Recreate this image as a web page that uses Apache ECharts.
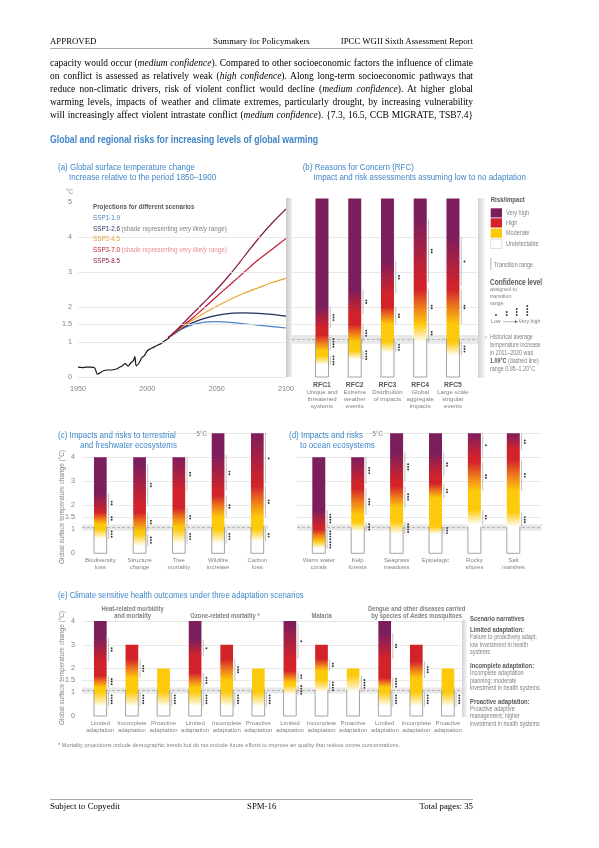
<!DOCTYPE html>
<html>
<head>
<meta charset="utf-8">
<script src="https://cdn.jsdelivr.net/npm/echarts@6.0.0/dist/echarts.min.js"></script>
<style>
html,body{margin:0;padding:0;background:#fff;}
body{width:599px;height:848px;position:relative;overflow:hidden;}
#chart{position:absolute;left:0;top:0;width:599px;height:848px;}
.pt{position:absolute;font-family:'Liberation Serif','Times New Roman',serif;color:#000;}
.hd{font-size:8.8px;top:35px;line-height:12px;white-space:nowrap;}
.para{left:50px;width:423px;font-size:9.5px;line-height:13px;text-align:justify;text-align-last:justify;}
.rule{position:absolute;left:50px;width:423px;height:0;border-top:1px solid #a8a8a8;}
.ft{font-size:8.8px;top:800px;line-height:12px;white-space:nowrap;}
</style>
</head>
<body>
<div id="chart"></div>
<div class="pt hd" style="left:50px">APPROVED</div>
<div class="pt hd" style="left:213px">Summary for Policymakers</div>
<div class="pt hd" style="right:126px">IPCC WGII Sixth Assessment Report</div>
<div class="rule" style="top:48px"></div>
<div class="pt para" style="top:57px">capacity would occur (<i>medium confidence</i>). Compared to other socioeconomic factors the influence of climate</div>
<div class="pt para" style="top:70px">on conflict is assessed as relatively weak (<i>high confidence</i>). Along long-term socioeconomic pathways that</div>
<div class="pt para" style="top:83px">reduce non-climatic drivers, risk of violent conflict would decline (<i>medium confidence</i>). At higher global</div>
<div class="pt para" style="top:96px">warming levels, impacts of weather and climate extremes, particularly drought, by increasing vulnerability</div>
<div class="pt para" style="top:109px">will increasingly affect violent intrastate conflict (<i>medium confidence</i>). {7.3, 16.5, CCB MIGRATE, TSB7.4}</div>
<div class="rule" style="top:799px"></div>
<div class="pt ft" style="left:50px">Subject to Copyedit</div>
<div class="pt ft" style="left:247px">SPM-16</div>
<div class="pt ft" style="right:126px">Total pages: 35</div>
<script>
// ---------------- DATA ----------------
// (a) Global surface temperature change
const histYears = [1950,1953,1956,1959,1962,1964,1966,1968,1971,1974,1977,1980,1982,1984,1986,1988,1990,1991,1992,1994,1996,1998,2000,2002,2004,2006,2008,2010,2012,2014,2016];
const histMean  = [0.28,0.27,0.28,0.28,0.26,0.08,0.12,0.17,0.20,0.20,0.22,0.28,0.32,0.38,0.31,0.40,0.47,0.58,0.32,0.40,0.55,0.62,0.75,0.80,0.84,0.88,0.92,0.96,1.02,1.07,1.12];
const histLow   = [0.02,0.02,0.04,0.05,0.04,0.00,0.00,0.00,0.02,0.00,0.02,0.06,0.12,0.18,0.12,0.20,0.26,0.36,0.12,0.20,0.35,0.42,0.55,0.60,0.66,0.70,0.74,0.78,0.84,0.90,0.95];
const histHigh  = [0.52,0.50,0.50,0.52,0.50,0.35,0.35,0.40,0.42,0.42,0.44,0.48,0.50,0.58,0.52,0.60,0.68,0.82,0.55,0.60,0.75,0.82,0.95,0.98,1.02,1.06,1.10,1.15,1.20,1.30,1.30];
const projYears = [2015,2020,2025,2030,2040,2050,2060,2070,2080,2090,2100];
const ssp119 = [1.12,1.25,1.37,1.46,1.56,1.58,1.56,1.52,1.48,1.44,1.40];
const ssp126 = [1.12,1.26,1.39,1.50,1.66,1.76,1.82,1.83,1.82,1.79,1.74];
const ssp245 = [1.12,1.27,1.42,1.56,1.80,2.02,2.22,2.40,2.55,2.70,2.82];
const ssp370 = [1.12,1.28,1.45,1.60,1.94,2.30,2.65,3.00,3.35,3.65,3.96];
const ssp585 = [1.12,1.30,1.50,1.70,2.10,2.50,2.95,3.45,3.95,4.40,4.80];
const ssp126Low  = [1.05,1.15,1.25,1.32,1.40,1.42,1.40,1.38,1.36,1.34,1.32];
const ssp126High = [1.18,1.50,1.80,2.05,2.30,2.36,2.36,2.36,2.36,2.36,2.36];
const ssp370Low  = [1.05,1.15,1.30,1.40,1.55,1.70,1.90,2.15,2.40,2.65,2.90];
const ssp370High = [1.15,1.40,1.70,2.00,2.35,2.70,3.15,3.70,4.25,4.70,5.00];
const aYTicks = [0,1,1.5,2,3,4,5];
const ceTicks = [0,1,1.5,2,3,4];
const gridA = [1,1.5,2,3,4];
const gridB = [1.5,2,3,4];
const gridCD = [1.5,2,3,4,5];
const gridE = [1.5,2,3,4];
const histRange = [0.95,1.2];
const histLevel = 1.09;
const outlineTop = 1.1;

// (b) Reasons for concern. transitions: [start, end, confidence dots]
const bNames = ['RFC1','RFC2','RFC3','RFC4','RFC5'];
const bDesc  = ['Unique and\nthreatened\nsystems','Extreme\nweather\nevents','Distribution\nof impacts','Global\naggregate\nimpacts','Large scale\nsingular\nevents'];
const bTop = [5.1,5.1,5.1,5.1,5.1];
const bUM = [[0.35,0.6,4],[0.5,0.75,4],[0.7,1.0,3],[1.0,1.5,2],[0.6,1.0,3]];
const bMH = [[0.75,1.2,4],[1.0,1.5,3],[1.5,2.0,2],[1.5,2.5,2],[1.5,2.5,2]];
const bHV = [[1.4,2.0,3],[1.8,2.5,2],[2.4,3.3,2],[2.7,4.5,2],[2.6,4.0,1]];

// (c) terrestrial & freshwater ecosystems
const cCats = ['Biodiversity\nloss','Structure\nchange','Tree\nmortality','Wildfire\nincrease','Carbon\nloss'];
const cTop = [4,4,4,5,5];
const cUM = [[0.6,1.0,3],[0.3,0.8,3],[0.4,1.0,3],[0.4,1.0,3],[0.5,1.0,2]];
const cMH = [[1.2,1.7,2],[0.9,1.7,2],[1.1,1.9,2],[1.5,2.4,2],[1.5,2.8,2]];
const cHV = [[1.7,2.5,2],[2.0,3.7,2],[2.6,4.0,2],[2.6,4.1,2],[2.9,5.0,1]];

// (d) ocean ecosystems
const dCats = ['Warm water\ncorals','Kelp\nforests','Seagrass\nmeadows','Epipelagic','Rocky\nshores','Salt\nmarshes'];
const dTop = [4,4,5,5,5,5];
const dUM = [[0.2,0.5,3],[0.9,1.3,3],[0.8,1.3,4],[0.8,1.1,3],[1.2,1.8,2],[1.1,1.7,3]];
const dMH = [[0.5,1.0,4],[1.6,2.7,3],[1.9,2.8,3],[2.3,2.9,2],[2.6,3.8,2],[2.6,3.9,2]];
const dHV = [[1.1,1.8,4],[2.9,4.0,3],[3.0,4.2,3],[3.2,4.2,2],[4.0,5.0,1],[4.3,5.0,2]];

// (e) health outcomes
const eGroups = ['Heat-related morbidity\nand mortality','Ozone-related mortality *','Malaria','Dengue and other diseases carried\nby species of Aedes mosquitoes'];
const eScen = ['Limited\nadaptation','Incomplete\nadaptation','Proactive\nadaptation'];
const eTop = [4,3,2, 4,3,2, 4,3,2, 4,3,2];
const eUM = [[0.4,1.0,4],[0.4,1.0,4],[0.4,1.0,4],[0.4,1.0,4],[0.4,1.0,4],[0.4,1.0,4],[0.9,1.3,4],[1.0,1.5,4],[1.0,1.7,4],[0.4,1.0,4],[0.4,1.0,4],[0.4,1.0,4]];
const eMH = [[1.2,1.7,3],[1.6,2.4,3],null,[1.2,1.8,3],[1.5,2.4,3],null,[1.4,1.9,2],[1.9,2.4,2],null,[1.2,1.6,4],[1.6,2.3,3],null];
const eHV = [[2.3,3.3,2],null,null,[2.5,3.2,1],null,null,[2.4,3.9,1],null,null,[2.4,3.5,2],null,null];

// ---------------- STYLE ----------------
const FN = "'Liberation Sans',Arial,sans-serif";
const BLUE = '#3f86c8';
const DG = '#58595b', LG = '#808285';
const C = {U:'#ffffff', M:'#fdca0b', O:'#ee7a1c', H:'#d2232a', V:'#7d1e5c'};
const SC = {s119:'#4a85c5', s126:'#1f2f5c', s245:'#eba12d', s370:'#c21a30', s585:'#861b45'};

const chart = echarts.init(document.getElementById('chart'), null, {renderer:'canvas'});

function pairs(xs, ys){ return xs.map((x,i)=>[x, ys[i]]); }
function diff(hi, lo){ return hi.map((v,i)=>v-lo[i]); }

function stopsFor(top, um, mh, hv){
  const p=[[0,C.U]];
  if(um) p.push([um[0],C.U],[um[1],C.M]);
  if(mh) p.push([mh[0],C.M],[(mh[0]+mh[1])/2,C.O],[mh[1],C.H]);
  if(hv) p.push([hv[0],C.H],[hv[1],C.V]);
  p.push([top,p[p.length-1][1]]);
  return p.filter(q=>q[0]<=top).map(q=>({offset:Math.min(1,q[0]/top),color:q[1]}));
}

function emberSeries(xi, yi, top, um, mh, hv, bw){
  return {
    type:'custom', xAxisIndex:xi, yAxisIndex:yi, z:5, silent:true,
    data: top.map((t,i)=>[i,t]),
    renderItem(params, api){
      const i=params.dataIndex;
      const t=api.value(1);
      const b=api.coord([i,0]), tp=api.coord([i,t]);
      const x0=b[0]-bw/2;
      const ch=[];
      ch.push({type:'rect', shape:{x:x0,y:tp[1],width:bw,height:b[1]-tp[1]},
        style:{fill:new echarts.graphic.LinearGradient(0,1,0,0,stopsFor(t,um[i],mh[i],hv[i]))}});
      const h=api.coord([i,outlineTop])[1];
      ch.push({type:'polyline', shape:{points:[[x0,h],[x0,b[1]],[x0+bw,b[1]],[x0+bw,h]]},
        style:{stroke:'#9a9a9a', lineWidth:0.9, fill:'none'}});
      [um[i],mh[i],hv[i]].forEach(tr=>{
        if(!tr) return;
        const y1=api.coord([i,tr[0]])[1], y2=api.coord([i,Math.min(tr[1],t)])[1];
        const lx=x0+bw+1.8;
        ch.push({type:'line', shape:{x1:lx,y1:y1,x2:lx,y2:y2}, style:{stroke:'#b0b2b5', lineWidth:0.8}});
        const cy=(y1+y2)/2, n=tr[2], sp=2.6;
        for(let k=0;k<n;k++) ch.push({type:'circle', shape:{cx:lx+3.2, cy:cy+(k-(n-1)/2)*sp, r:0.95}, style:{fill:'#333'}});
      });
      return {type:'group', children:ch};
    }
  };
}

function bgSeries(xi, yi, lines, band){
  const ml = lines.map(v=>({yAxis:v}));
  if(band) ml.push({yAxis:histLevel, lineStyle:{color:'#a9a9a9', type:[3,2], width:0.8}});
  const s = {type:'line', xAxisIndex:xi, yAxisIndex:yi, data:[], silent:true, z:1,
    markLine:{silent:true, symbol:'none', animation:false, label:{show:false}, lineStyle:{color:'#e3e3e3', width:0.8, type:'solid'}, data:ml}};
  if(band) s.markArea = {silent:true, animation:false, itemStyle:{color:'#e8e8e8'}, data:[[{yAxis:histRange[0]},{yAxis:histRange[1]}]]};
  return s;
}

function tickFmt(list){ return v => list.indexOf(+(+v).toFixed(2))>=0 ? String(v) : ''; }

const grids = [
  {left:78, top:202, width:208, height:175},
  {left:287, top:202, width:191, height:175},
  {left:305.6, top:202, width:163.75, height:175},
  {left:82, top:433.3, width:186, height:120},
  {left:80.7, top:433.3, width:196.25, height:120},
  {left:297, top:433.3, width:245, height:120},
  {left:299.35, top:433.3, width:233.4, height:120},
  {left:82, top:621, width:380, height:95},
  {left:84.5, top:621, width:379.2, height:95}
].map(g=>Object.assign({outerBoundsMode:'none', containLabel:false}, g));

const hidX = gi => ({type:'value', gridIndex:gi, min:0, max:1, show:false});
const hidY = (gi,max) => ({type:'value', gridIndex:gi, min:0, max:max, show:false});
const catLabel = {interval:0, fontFamily:FN, fontSize:6.0, color:LG, lineHeight:6.8, margin:4};

const eKeys = [];
eGroups.forEach((g,gi)=>eScen.forEach((s,si)=>eKeys.push(gi+'|'+si)));

const xAxes = [
  {type:'value', gridIndex:0, min:1950, max:2100, interval:50,
   axisLine:{show:true, lineStyle:{color:'#e4e4e4'}}, axisTick:{show:false}, splitLine:{show:false},
   axisLabel:{fontFamily:FN, fontSize:7.2, color:LG, margin:9, formatter:v=>String(v)}},
  hidX(1),
  {type:'category', gridIndex:2, data:bNames, axisLine:{show:false}, axisTick:{show:false},
   axisLabel:{interval:0, margin:4, formatter:(v,i)=>'{b|'+v+'}\n'+bDesc[i].split('\n').map(s=>'{n|'+s+'}').join('\n'),
     rich:{b:{fontFamily:FN, fontSize:6.8, fontWeight:'bold', color:DG, lineHeight:8},
           n:{fontFamily:FN, fontSize:6.1, color:LG, lineHeight:7}}}},
  hidX(3),
  {type:'category', gridIndex:4, data:cCats, axisLine:{show:false}, axisTick:{show:false}, axisLabel:catLabel},
  hidX(5),
  {type:'category', gridIndex:6, data:dCats, axisLine:{show:false}, axisTick:{show:false}, axisLabel:catLabel},
  hidX(7),
  {type:'category', gridIndex:8, data:eKeys, axisLine:{show:false}, axisTick:{show:false},
   axisLabel:Object.assign({}, catLabel, {formatter:v=>eScen[+v.split('|')[1]]})}
];

const yAxes = [
  {type:'value', gridIndex:0, min:0, max:5, interval:0.5, axisLine:{show:false}, axisTick:{show:false}, splitLine:{show:false},
   axisLabel:{fontFamily:FN, fontSize:7.2, color:LG, margin:6, formatter:tickFmt(aYTicks)}},
  hidY(1,5), hidY(2,5),
  {type:'value', gridIndex:3, min:0, max:5, interval:0.5, axisLine:{show:false}, axisTick:{show:false}, splitLine:{show:false},
   axisLabel:{fontFamily:FN, fontSize:7.2, color:LG, margin:7, formatter:tickFmt(ceTicks)}},
  hidY(4,5), hidY(5,5), hidY(6,5),
  {type:'value', gridIndex:7, min:0, max:4, interval:0.5, axisLine:{show:false}, axisTick:{show:false}, splitLine:{show:false},
   axisLabel:{fontFamily:FN, fontSize:7.2, color:LG, margin:7, formatter:tickFmt(ceTicks)}},
  hidY(8,4)
];

function lineS(data, color, w, z){
  return {type:'line', xAxisIndex:0, yAxisIndex:0, data, symbol:'none', smooth:0.3, z:z||4, silent:true,
    lineStyle:{color, width:w}};
}
function bandS(lo, hi, xs, stack, color, z){
  return [
    {type:'line', xAxisIndex:0, yAxisIndex:0, data:pairs(xs, lo), stack, symbol:'none', smooth:0.3, silent:true, z:z, lineStyle:{opacity:0}},
    {type:'line', xAxisIndex:0, yAxisIndex:0, data:pairs(xs, diff(hi, lo)), stack, symbol:'none', smooth:0.3, silent:true, z:z, lineStyle:{opacity:0}, areaStyle:{color, opacity:1}}
  ];
}

const series = [
  bgSeries(0,0,gridA,false),
  ...bandS(histLow, histHigh, histYears, 'hist', 'rgba(200,200,200,0.85)', 2),
  ...bandS(ssp126Low, ssp126High, projYears, 'b126', 'rgba(196,204,226,0.85)', 2),
  ...bandS(ssp370Low, ssp370High, projYears, 'b370', 'rgba(245,176,181,0.72)', 3),
  lineS(pairs(histYears, histMean), '#1a1a1a', 1.2),
  lineS(pairs(projYears, ssp119), SC.s119, 1.2),
  lineS(pairs(projYears, ssp126), SC.s126, 1.2),
  lineS(pairs(projYears, ssp245), SC.s245, 1.2),
  lineS(pairs(projYears, ssp370), SC.s370, 1.2),
  lineS(pairs(projYears, ssp585), SC.s585, 1.2),
  bgSeries(1,1,gridB,true),
  emberSeries(2,2,bTop,bUM,bMH,bHV,13),
  bgSeries(3,3,gridCD,true),
  emberSeries(4,4,cTop,cUM,cMH,cHV,12.7),
  bgSeries(5,5,gridCD,true),
  emberSeries(6,6,dTop,dUM,dMH,dHV,13),
  bgSeries(7,7,gridE,true),
  emberSeries(8,8,eTop,eUM,eMH,eHV,12.7)
];

// ---------------- TEXT / DECORATION ----------------
const G = [];
function T(x,y,text,o,sx){ G.push({type:'text', x, y, scaleX:(sx==null?0.85:sx), z:50, silent:true, style:Object.assign({text, fontFamily:FN, fontSize:7, fill:DG, verticalAlign:'middle', align:'left'}, o||{})}); }
function grad(x,y,w,h,c1,c2){ G.push({type:'rect', z:40, silent:true, shape:{x,y,width:w,height:h}, style:{fill:new echarts.graphic.LinearGradient(0,0,1,0,[{offset:0,color:c1},{offset:1,color:c2}])}}); }

T(50,139.5,'Global and regional risks for increasing levels of global warming',{fontSize:11.2, fontWeight:'bold', fill:BLUE},0.78);
const PT = {fontSize:9.4, fill:BLUE};
T(58,167,'(a) Global surface temperature change',PT);
T(69,177.5,'Increase relative to the period 1850–1900',PT);
T(302.7,167,'(b) Reasons for Concern (RFC)',PT);
T(313.3,177.5,'Impact and risk assessments assuming low to no adaptation',PT);
T(58,435.7,'(c) Impacts and risks to terrestrial',PT);
T(80,445.5,'and freshwater ecosystems',PT);
T(289,435.7,'(d) Impacts and risks',PT);
T(300,445.5,'to ocean ecosystems',PT);
T(58,595.7,'(e) Climate sensitive health outcomes under three adaptation scenarios',PT,0.83);

// panel a
T(66,192,'°C',{fontSize:7.4, fill:LG});
T(93,207,'Projections for different scenarios',{fontSize:7.6, fontWeight:'bold', fill:DG},0.82);
const LR = {fontSize:7.4};
T(93,218,'SSP1-1.9',Object.assign({fill:SC.s119},LR));
T(93,228.7,'{a|SSP1-2.6} {g|(shade representing }{gi|very likely}{g| range)}',Object.assign({rich:{a:{fill:SC.s126,fontFamily:FN,fontSize:7.4},g:{fill:LG,fontFamily:FN,fontSize:7.4},gi:{fill:LG,fontFamily:FN,fontSize:7.4,fontStyle:'italic'}}},LR));
T(93,239.3,'SSP2-4.5',Object.assign({fill:SC.s245},LR));
T(93,250,'{a|SSP3-7.0} {g|(shade representing }{gi|very likely}{g| range)}',Object.assign({rich:{a:{fill:SC.s370,fontFamily:FN,fontSize:7.4},g:{fill:'#ec8c93',fontFamily:FN,fontSize:7.4},gi:{fill:'#ec8c93',fontFamily:FN,fontSize:7.4,fontStyle:'italic'}}},LR));
T(93,260.5,'SSP5-8.5',Object.assign({fill:SC.s585},LR));

// gray separators
grad(286,198,6,179,'#c9c9c9','#f0f0f0');
grad(478,198,7,180,'#d3d3d3','#f6f6f6');
grad(462,620,5,97,'#d3d3d3','#f6f6f6');

// legend b
T(490.7,200,'Risk/impact',{fontSize:8, fontWeight:'bold'},0.76);
[[C.V,'Very high',208.3],[C.H,'High',218.3],[C.M,'Moderate',228.6],[C.U,'Undetectable',239.2]].forEach(r=>{
  G.push({type:'rect', z:40, silent:true, shape:{x:490.7,y:r[2],width:11.3,height:9.2}, style:{fill:r[0], stroke:r[0]===C.U?'#c8c8c8':null, lineWidth:0.6}});
  T(506,r[2]+4.6,r[1],{fontSize:6.5, fill:LG});
});
G.push({type:'line', z:40, silent:true, shape:{x1:490.9,y1:258,x2:490.9,y2:270}, style:{stroke:'#a0a0a0', lineWidth:0.8}});
T(494,265,'Transition range',{fontSize:6.4, fill:LG});
T(490,282.7,'Confidence level',{fontSize:8.2, fontWeight:'bold'},0.8);
T(490,289.6,'assigned to',{fontSize:6.2, fill:LG});
T(490,296.3,'transition',{fontSize:6.2, fill:LG});
T(490,303,'range',{fontSize:6.2, fill:LG});
[[496,1],[506.7,2],[516.7,3],[527.3,4]].forEach(d=>{
  for(let k=0;k<d[1];k++) G.push({type:'circle', z:40, silent:true, shape:{cx:d[0], cy:315-k*3, r:0.95}, style:{fill:'#333'}});
});
T(491,321.7,'Low',{fontSize:6.2, fill:LG});
G.push({type:'line', z:40, silent:true, shape:{x1:503,y1:321.7,x2:516,y2:321.7}, style:{stroke:'#888', lineWidth:0.6}});
G.push({type:'polygon', z:40, silent:true, shape:{points:[[518,321.7],[515,320.2],[515,323.2]]}, style:{fill:'#666'}});
T(518.5,321.7,'Very high',{fontSize:6.2, fill:LG});
T(484.5,337,'>',{fontSize:6.2, fill:'#aaa'});
T(490,337,'Historical average',{fontSize:6.3, fill:LG});
T(490,345,'temperature increase',{fontSize:6.3, fill:LG});
T(490,353,'in 2011–2020 was',{fontSize:6.3, fill:LG});
T(490,361,'{b|1.09°C} (dashed line)',{fontSize:6.3, fill:LG, rich:{b:{fontFamily:FN,fontSize:6.3,fontWeight:'bold',fill:DG}}});
T(490,369,'range 0.95–1.20°C',{fontSize:6.3, fill:LG});

// panel c/d/e extras
T(207,434,'5°C',{fontSize:7.3, fill:LG, align:'right'});
T(383,434,'5°C',{fontSize:7.3, fill:LG, align:'right'});
G.push({type:'text', x:62, y:507, rotation:Math.PI/2, scaleX:0.88, z:50, silent:true, style:{text:'Global surface temperature change (°C)', fontFamily:FN, fontSize:7.3, fill:LG, align:'center', verticalAlign:'middle'}});
G.push({type:'text', x:62, y:668, rotation:Math.PI/2, scaleX:0.88, z:50, silent:true, style:{text:'Global surface temperature change (°C)', fontFamily:FN, fontSize:7.3, fill:LG, align:'center', verticalAlign:'middle'}});

const GH = {fontSize:6.9, fontWeight:'bold', fill:LG, align:'center'};
T(132.7,609.3,'Heat-related morbidity',GH);
T(132.7,616.3,'and mortality',GH);
T(225,616.3,'Ozone-related mortality *',GH);
T(321.7,616.3,'Malaria',GH);
T(416.7,609.3,'Dengue and other diseases carried',GH);
T(416.7,616.3,'by species of {i|Aedes} mosquitoes',Object.assign({rich:{i:{fontFamily:FN,fontSize:6.9,fontWeight:'bold',fontStyle:'italic',fill:LG}}},GH));

const SN = {fontSize:6.4, fill:LG};
const SB = {fontSize:6.9, fontWeight:'bold', fill:DG};
T(470,619,'Scenario narratives',SB);
T(470,630,'Limited adaptation:',SB);
T(470,637.7,'Failure to proactively adapt;',SN);
T(470,645.1,'low investment in health',SN);
T(470,652.7,'systems',SN);
T(470,665.7,'Incomplete adaptation:',SB);
T(470,673.3,'Incomplete adaptation',SN);
T(470,681,'planning; moderate',SN);
T(470,688.4,'investment in health systems',SN);
T(470,701.7,'Proactive adaptation:',SB);
T(470,709.2,'Proactive adaptive',SN);
T(470,716.7,'management; higher',SN);
T(470,724.1,'investment in health systems',SN);

T(58,745.7,'* Mortality projections include demographic trends but do not include future efforts to improve air quality that reduce ozone concentrations.',{fontSize:6.1, fill:LG},0.92);

chart.setOption({
  animation:false,
  backgroundColor:'transparent',
  grid:grids, xAxis:xAxes, yAxis:yAxes, series, graphic:G
});
</script>
</body>
</html>
